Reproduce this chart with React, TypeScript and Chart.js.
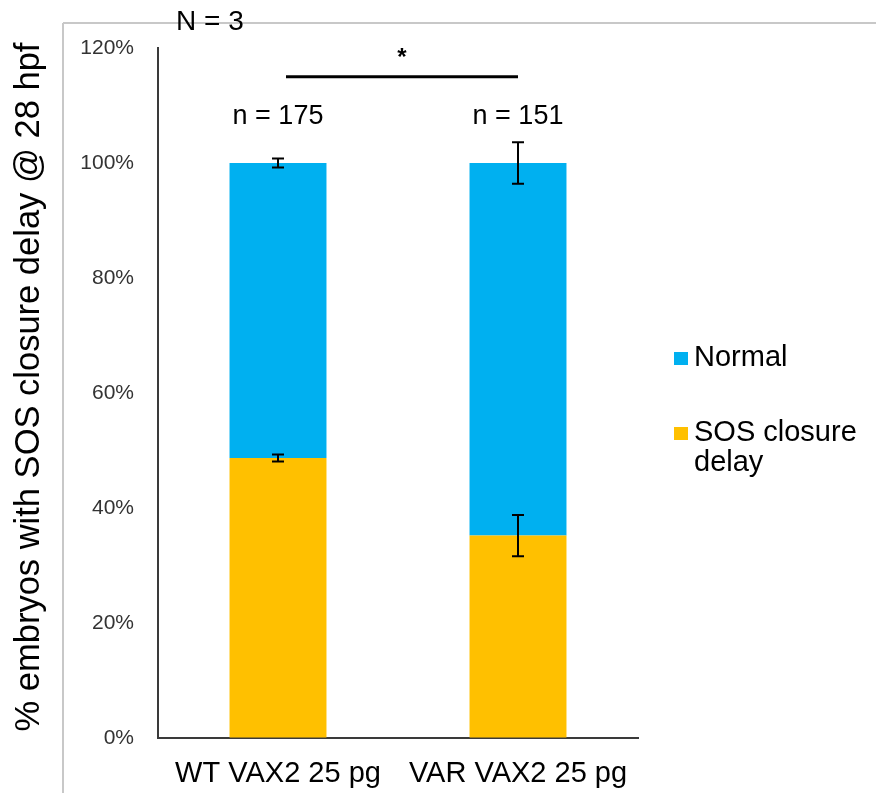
import React, { useEffect, useRef } from "react";
import { Chart, registerables } from "chart.js";

Chart.register(...registerables);

const categories = ["WT VAX2 25 pg", "VAR VAX2 25 pg"];
const sosDelay = [48.7, 35.2];
const normal = [51.3, 64.8];
const sosDelayErr = [0.6, 3.6];
const normalErr = [0.8, 3.6];
const sampleSizes = ["n = 175", "n = 151"];
const seriesLabels = ["SOS closure delay", "Normal"];
const seriesColors = ["#FFC000", "#00B0F0"];
const yMax = 120;
const yStep = 20;
const replicateLabel = "N = 3";
const significanceLabel = "*";
const significanceLevel = 115;
const sampleLabelLevel = 108;
const yTitle = "% embryos with SOS closure delay @ 28 hpf";

const FONT = "'Liberation Sans', Arial, Helvetica, sans-serif";

const annotations = {
  id: "annotations",
  beforeDraw(chart: any) {
    const ctx = chart.ctx;
    ctx.save();
    ctx.strokeStyle = "#c8c8c8";
    ctx.lineWidth = 2;
    ctx.beginPath();
    ctx.moveTo(63, 23);
    ctx.lineTo(chart.width, 23);
    ctx.moveTo(63, 23);
    ctx.lineTo(63, chart.height);
    ctx.stroke();
    ctx.restore();
  },
  afterDatasetsDraw(chart: any) {
    const ctx = chart.ctx;
    const ys = chart.scales.y;
    const errs = [sosDelayErr, normalErr];
    ctx.save();
    ctx.strokeStyle = "#000";
    ctx.lineWidth = 2;
    chart.data.datasets.forEach((_ds: any, di: number) => {
      const meta = chart.getDatasetMeta(di);
      meta.data.forEach((bar: any, i: number) => {
        const e = errs[di][i];
        const dy = Math.abs(ys.getPixelForValue(0) - ys.getPixelForValue(e));
        const x = bar.x;
        const t = bar.y - dy;
        const b = bar.y + dy;
        ctx.beginPath();
        ctx.moveTo(x, t);
        ctx.lineTo(x, b);
        ctx.moveTo(x - 6, t);
        ctx.lineTo(x + 6, t);
        ctx.moveTo(x - 6, b);
        ctx.lineTo(x + 6, b);
        ctx.stroke();
      });
    });
    ctx.restore();
  },
  afterDraw(chart: any) {
    const ctx = chart.ctx;
    const xs = chart.scales.x;
    const ys = chart.scales.y;
    ctx.save();
    ctx.fillStyle = "#000";
    // sample sizes
    ctx.font = `27px ${FONT}`;
    ctx.textAlign = "center";
    ctx.textBaseline = "middle";
    sampleSizes.forEach((s, i) => {
      ctx.fillText(s, xs.getPixelForValue(i), ys.getPixelForValue(sampleLabelLevel));
    });
    // significance bar
    const sy = ys.getPixelForValue(significanceLevel);
    const x1 = xs.getPixelForValue(0) + 8;
    const x2 = xs.getPixelForValue(1);
    ctx.strokeStyle = "#000";
    ctx.lineWidth = 3;
    ctx.beginPath();
    ctx.moveTo(x1, sy);
    ctx.lineTo(x2, sy);
    ctx.stroke();
    ctx.font = `bold 24px ${FONT}`;
    ctx.fillText(significanceLabel, (x1 + x2) / 2, sy - 18);
    // N = 3
    ctx.font = `28px ${FONT}`;
    ctx.textAlign = "left";
    ctx.fillText(replicateLabel, 176, 22);
    // y title
    ctx.save();
    ctx.translate(29, (chart.chartArea.top + chart.chartArea.bottom) / 2 - 6);
    ctx.rotate(-Math.PI / 2);
    ctx.textAlign = "center";
    ctx.font = `34.5px ${FONT}`;
    ctx.fillText(yTitle, 0, 0);
    ctx.restore();
    // legend (reversed order)
    ctx.font = `29px ${FONT}`;
    ctx.textAlign = "left";
    let ly = 358;
    const order = chart.data.datasets.map((_d: any, i: number) => i).reverse();
    order.forEach((di: number) => {
      const ds = chart.data.datasets[di];
      ctx.fillStyle = ds.backgroundColor;
      ctx.fillRect(674, ly - 6, 14, 13);
      ctx.fillStyle = "#000";
      const words = String(ds.label).split(" ");
      const lines: string[] = [];
      let cur = "";
      words.forEach((w) => {
        const test = cur ? cur + " " + w : w;
        if (ctx.measureText(test).width > 176 && cur) {
          lines.push(cur);
          cur = w;
        } else cur = test;
      });
      if (cur) lines.push(cur);
      lines.forEach((ln, k) => ctx.fillText(ln, 694, ly + k * 30));
      ly += 75;
    });
    ctx.restore();
  },
};

export default function App() {
  const ref = useRef<HTMLCanvasElement>(null);
  useEffect(() => {
    if (!ref.current) return;
    const chart = new Chart(ref.current, {
      type: "bar",
      data: {
        labels: categories,
        datasets: [
          { label: seriesLabels[0], data: sosDelay, backgroundColor: seriesColors[0] },
          { label: seriesLabels[1], data: normal, backgroundColor: seriesColors[1] },
        ],
      },
      options: {
        responsive: false,
        devicePixelRatio: 1,
        animation: false,
        layout: { padding: { top: 48, right: 238, bottom: 0, left: 0 } },
        datasets: { bar: { categoryPercentage: 1, barPercentage: 0.404 } },
        plugins: { legend: { display: false }, tooltip: { enabled: false } },
        scales: {
          x: {
            stacked: true,
            grid: { drawOnChartArea: false, drawTicks: false },
            border: { display: true, color: "#3a3a3a", width: 2 },
            ticks: { color: "#000", font: { family: FONT, size: 29 }, padding: 19, maxRotation: 0 },
            afterFit: (s: any) => { s.height = 55; },
          },
          y: {
            stacked: true,
            min: 0,
            max: yMax,
            grid: { drawOnChartArea: false, drawTicks: false },
            border: { display: true, color: "#3a3a3a", width: 2 },
            ticks: {
              stepSize: yStep,
              color: "#333333",
              padding: 24,
              font: { family: FONT, size: 21 },
              callback: (v: any) => v + "%",
            },
            afterFit: (s: any) => { s.width = 158; },
          },
        },
      },
      plugins: [annotations],
    } as any);
    return () => chart.destroy();
  }, []);
  return (
    <div style={{ position: "fixed", left: 0, top: 0, width: 876, height: 793, background: "#fff" }}>
      <canvas ref={ref} width={876} height={793} />
    </div>
  );
}
